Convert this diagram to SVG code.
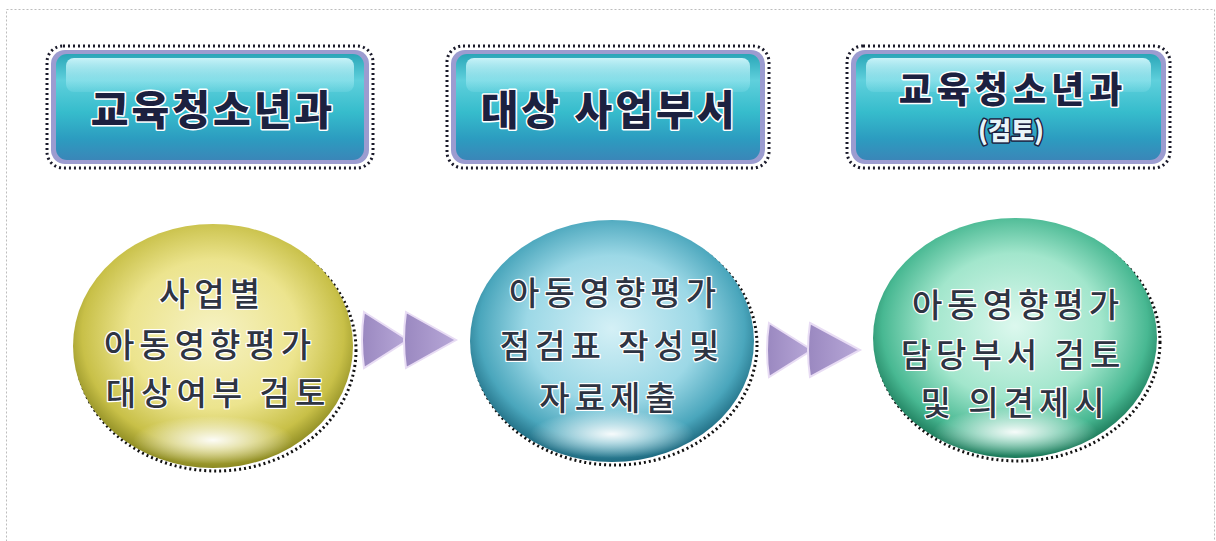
<svg xmlns="http://www.w3.org/2000/svg" width="1216" height="541" viewBox="0 0 1216 541">
<style>
.frame{fill:none;stroke:#bdbdbd;stroke-width:1;stroke-dasharray:2 2}
.boxout{fill:none;stroke:#1a1a2a;stroke-width:3;stroke-dasharray:2 3}
.boxrim{fill:#9c9cd0}
.boxbody{fill:url(#boxg)}
.boxshine{fill:url(#shine)}
.bt{font-family:"Noto Sans CJK KR","Noto Sans",sans-serif;font-weight:900;fill:#1c2140;stroke:#ffffff;stroke-width:3;paint-order:stroke;stroke-linejoin:round;text-anchor:middle}
.ct{font-family:"Noto Sans CJK KR","Noto Sans",sans-serif;font-weight:500;font-size:33px;letter-spacing:5px;fill:#2e3442;stroke:#ffffff;stroke-width:2.5;paint-order:stroke;stroke-linejoin:round;text-anchor:middle}
.shadow{fill:none;stroke:#111;stroke-width:3;stroke-dasharray:2 3}
.chev{fill:url(#chevg);stroke:#e8dcf4;stroke-width:2}
</style>
<defs>
<linearGradient id="boxg" x1="0" y1="0" x2="0" y2="1">
<stop offset="0" stop-color="#2aa6b8"/>
<stop offset="0.25" stop-color="#5fd0dc"/>
<stop offset="0.55" stop-color="#36bccc"/>
<stop offset="0.8" stop-color="#2c9cc0"/>
<stop offset="1" stop-color="#3a86b8"/>
</linearGradient>
<linearGradient id="shine" x1="0" y1="0" x2="0" y2="1">
<stop offset="0" stop-color="#d8fbff" stop-opacity="0.9"/>
<stop offset="1" stop-color="#aef0f8" stop-opacity="0.15"/>
</linearGradient>
<radialGradient id="yel" cx="0.5" cy="0.45" r="0.55">
<stop offset="0" stop-color="#f6f2c4"/>
<stop offset="0.55" stop-color="#ece48e"/>
<stop offset="0.85" stop-color="#c8c048"/>
<stop offset="1" stop-color="#8c8a22"/>
</radialGradient>
<radialGradient id="blu" cx="0.5" cy="0.45" r="0.55">
<stop offset="0" stop-color="#d4f0f6"/>
<stop offset="0.55" stop-color="#9cd8e6"/>
<stop offset="0.85" stop-color="#4aa6bc"/>
<stop offset="1" stop-color="#1e6a80"/>
</radialGradient>
<radialGradient id="grn" cx="0.5" cy="0.45" r="0.55">
<stop offset="0" stop-color="#dcf8ee"/>
<stop offset="0.55" stop-color="#a2e6cc"/>
<stop offset="0.85" stop-color="#48b892"/>
<stop offset="1" stop-color="#1c7a5a"/>
</radialGradient>
<radialGradient id="glow" cx="0.5" cy="0.5" r="0.5">
<stop offset="0" stop-color="#ffffff" stop-opacity="0.95"/>
<stop offset="1" stop-color="#ffffff" stop-opacity="0"/>
</radialGradient>
<linearGradient id="chevg" x1="0" y1="0" x2="1" y2="0">
<stop offset="0" stop-color="#9a88c0"/>
<stop offset="1" stop-color="#b8a8d8"/>
</linearGradient>
</defs>
<rect class="frame" x="6.5" y="9.5" width="1208" height="540"/>

<g id="box1">
<rect class="boxout" x="47" y="46" width="326" height="122" rx="16"/>
<rect class="boxrim" x="51" y="50" width="318" height="114" rx="14"/>
<rect class="boxbody" x="56" y="54" width="308" height="106" rx="11"/>
<rect class="boxshine" x="66" y="58" width="288" height="34" rx="8"/>
<text class="bt" x="213" y="125" font-size="41" letter-spacing="3">교육청소년과</text>
</g>
<g id="box2">
<rect class="boxout" x="447" y="46" width="322" height="122" rx="16"/>
<rect class="boxrim" x="451" y="50" width="314" height="114" rx="14"/>
<rect class="boxbody" x="456" y="54" width="304" height="106" rx="11"/>
<rect class="boxshine" x="466" y="58" width="284" height="34" rx="8"/>
<text class="bt" x="609" y="125" font-size="41" letter-spacing="3">대상 사업부서</text>
</g>
<g id="box3">
<rect class="boxout" x="847" y="46" width="323" height="122" rx="16"/>
<rect class="boxrim" x="851" y="50" width="315" height="114" rx="14"/>
<rect class="boxbody" x="856" y="54" width="305" height="106" rx="11"/>
<rect class="boxshine" x="866" y="58" width="285" height="34" rx="8"/>
<text class="bt" x="1013" y="103" font-size="36" letter-spacing="5">교육청소년과</text>
<text class="bt" x="1011" y="140" font-size="25" style="fill:#e8f4f8;stroke:#1c2140;stroke-width:3">(검토)</text>
</g>

<g id="node1">
<ellipse class="shadow" cx="216" cy="350" rx="140" ry="121"/>
<ellipse cx="213" cy="346" rx="140" ry="122" fill="url(#yel)"/>
<ellipse cx="213" cy="440" rx="80" ry="24" fill="url(#glow)"/>
<text class="ct" x="212" y="306">사업별</text>
<text class="ct" x="210" y="357">아동영향평가</text>
<text class="ct" x="218" y="405">대상여부 검토</text>
</g>
<g id="node2">
<ellipse class="shadow" cx="615" cy="345" rx="142" ry="120"/>
<ellipse cx="612" cy="341" rx="142" ry="121" fill="url(#blu)"/>
<ellipse cx="612" cy="434" rx="82" ry="24" fill="url(#glow)"/>
<text class="ct" x="615" y="305">아동영향평가</text>
<text class="ct" x="612" y="358">점검표 작성및</text>
<text class="ct" x="610" y="410">자료제출</text>
</g>
<g id="node3">
<ellipse class="shadow" cx="1018" cy="342" rx="142" ry="119"/>
<ellipse cx="1015" cy="338" rx="142" ry="120" fill="url(#grn)"/>
<ellipse cx="1015" cy="432" rx="82" ry="24" fill="url(#glow)"/>
<text class="ct" x="1018" y="317">아동영향평가</text>
<text class="ct" x="1013" y="367">담당부서 검토</text>
<text class="ct" x="1015" y="415">및 의견제시</text>
</g>

<g id="connectors">
<path class="chev" d="M364,312 L408,340 L364,368 Q360,340 364,312 Z"/>
<path class="chev" d="M406,312 L456,340 L406,368 Q402,340 406,312 Z"/>
<path class="chev" d="M769,323 L812,350 L769,377 Q765,350 769,323 Z"/>
<path class="chev" d="M810,323 L860,350 L810,377 Q806,350 810,323 Z"/>
</g>
</svg>
